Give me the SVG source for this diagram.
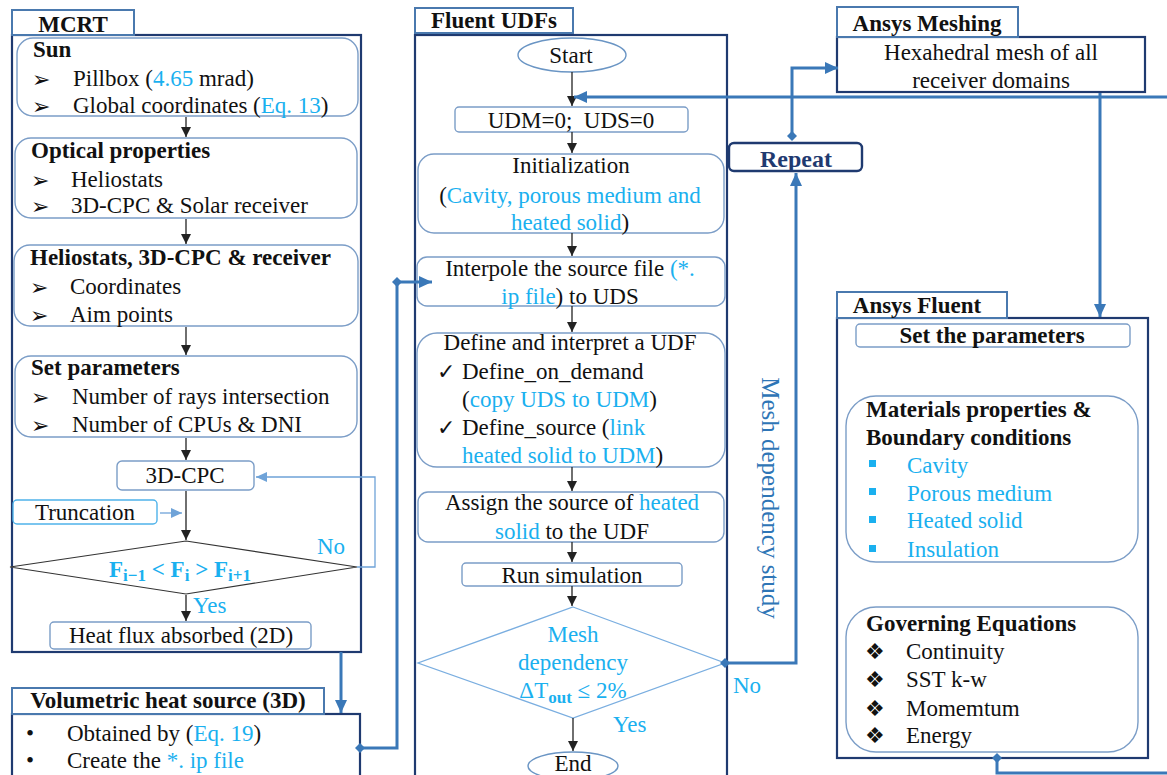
<svg xmlns="http://www.w3.org/2000/svg" width="1167" height="775" viewBox="0 0 1167 775" font-family="Liberation Serif, serif">
<defs>
<style>
text{font-family:'Liberation Serif','DejaVu Serif',serif;font-size:23px;fill:#111}
.b{font-weight:bold}
.c{text-anchor:middle}
.lb{fill:#1ab0ef}
.sym{font-family:'DejaVu Sans',sans-serif;font-size:22px}
.outer{fill:#fff;stroke:#1f3a70;stroke-width:2.2}
.tab{fill:#fff;stroke:#4a79ae;stroke-width:2}
.rb{fill:#fff;stroke:#7b9dc7;stroke-width:1.4}
.blk{fill:none;stroke:#222;stroke-width:1.3}
.thick{fill:none;stroke:#3a78b8;stroke-width:3}
.thin{fill:none;stroke:#6fa3d8;stroke-width:1.3}
</style>
<marker id="ab" markerUnits="userSpaceOnUse" markerWidth="10" markerHeight="10" refX="10" refY="5" orient="auto"><path d="M0,0 L10,5 L0,10 z" fill="#222"/></marker>
<marker id="au" markerUnits="userSpaceOnUse" markerWidth="13" markerHeight="12" refX="13" refY="6" orient="auto"><path d="M0,0 L13,6 L0,12 z" fill="#3a78b8"/></marker>
<marker id="al" markerUnits="userSpaceOnUse" markerWidth="11" markerHeight="10" refX="11" refY="5" orient="auto"><path d="M0,0 L11,5 L0,10 z" fill="#6fa3d8"/></marker>
<marker id="dm" markerUnits="userSpaceOnUse" markerWidth="10" markerHeight="10" refX="5" refY="5" orient="auto"><path d="M5,0 L10,5 L5,10 L0,5 z" fill="#3a78b8"/></marker>
</defs>
<rect width="1167" height="775" fill="#fff"/>

<!-- MCRT -->
<g id="mcrt">
<rect class="outer" x="12" y="35" width="349" height="617"/>
<rect class="tab" x="12" y="10" width="122" height="25"/>
<text class="b c" x="73" y="32">MCRT</text>
</g>
<g id="sun">
<rect class="rb" x="17" y="38" width="341" height="78" rx="16"/>
<text class="b" x="33" y="57">Sun</text>
<text class="sym" x="32" y="87">➢</text>
<text x="73" y="86">Pillbox (<tspan class="lb">4.65</tspan> mrad)</text>
<text class="sym" x="32" y="114">➢</text>
<text x="73" y="113">Global coordinates (<tspan class="lb">Eq. 13</tspan>)</text>
</g>
<g id="optical">
<rect class="rb" x="15" y="138" width="342" height="80" rx="16"/>
<text class="b" x="31" y="158">Optical properties</text>
<text class="sym" x="31" y="188">➢</text>
<text x="71" y="187">Heliostats</text>
<text class="sym" x="31" y="214">➢</text>
<text x="71" y="213">3D-CPC &amp; Solar receiver</text>
</g>
<g id="helio">
<rect class="rb" x="14" y="245" width="344" height="81" rx="16"/>
<text class="b" x="30" y="265">Heliostats, 3D-CPC &amp; receiver</text>
<text class="sym" x="30" y="295">➢</text>
<text x="70" y="294">Coordinates</text>
<text class="sym" x="30" y="323">➢</text>
<text x="70" y="322">Aim points</text>
</g>
<g id="setparams">
<rect class="rb" x="15" y="356" width="342" height="81" rx="16"/>
<text class="b" x="31" y="375">Set parameters</text>
<text class="sym" x="31" y="405">➢</text>
<text x="72" y="404">Number of rays intersection</text>
<text class="sym" x="31" y="433">➢</text>
<text x="72" y="432">Number of CPUs &amp; DNI</text>
</g>
<g id="cpc">
<rect class="rb" x="117" y="461" width="137" height="29" rx="5"/>
<text class="c" x="185" y="483">3D-CPC</text>
</g>
<g id="truncation">
<rect x="13" y="500" width="144" height="24" rx="4" fill="#fff" stroke="#4fb3ea" stroke-width="1.4"/>
<text class="c" x="85" y="520">Truncation</text>
</g>
<g id="decision1">
<path d="M186,541 L357,567 L186,594 L10,567 z" fill="#fff" stroke="#333" stroke-width="1.2"/>
<text class="b lb c" x="180" y="577" style="font-size:23px">F<tspan dy="4" style="font-size:17px">i−1</tspan><tspan dy="-4"> &lt; F</tspan><tspan dy="4" style="font-size:17px">i</tspan><tspan dy="-4"> &gt; F</tspan><tspan dy="4" style="font-size:17px">i+1</tspan></text>
</g>
<g id="heatflux">
<rect class="rb" x="50" y="622" width="261" height="27" rx="4"/>
<text class="c" x="181" y="643">Heat flux absorbed (2D)</text>
</g>
<g id="volumetric">
<rect class="outer" x="12" y="714" width="348" height="70"/>
<rect class="tab" x="12" y="688" width="312" height="26"/>
<text class="b c" x="168" y="708">Volumetric heat source (3D)</text>
<text x="26" y="741">•</text>
<text x="67" y="741">Obtained by (<tspan class="lb">Eq. 19</tspan>)</text>
<text x="26" y="768">•</text>
<text x="67" y="768">Create the <tspan class="lb">*. ip file</tspan></text>
</g>

<!-- Fluent UDFs -->
<g id="udfs">
<rect class="outer" x="415" y="35" width="312" height="750"/>
<rect class="tab" x="415" y="8" width="158" height="25"/>
<text class="b c" x="494" y="28">Fluent UDFs</text>
</g>
<g id="start">
<ellipse cx="572" cy="55" rx="54" ry="17" fill="#fff" stroke="#6a95c4" stroke-width="1.4"/>
<text class="c" x="571" y="63">Start</text>
</g>
<g id="udm">
<rect class="rb" x="455" y="107" width="233" height="25" rx="4"/>
<text class="c" x="571" y="128" xml:space="preserve">UDM=0;  UDS=0</text>
</g>
<g id="init">
<rect class="rb" x="418" y="154" width="306" height="79" rx="16"/>
<text class="c" x="571" y="173">Initialization</text>
<text class="c" x="570" y="203">(<tspan class="lb">Cavity, porous medium and</tspan></text>
<text class="c" x="570" y="230"><tspan class="lb">heated solid</tspan>)</text>
</g>
<g id="interpole">
<rect class="rb" x="417" y="257" width="308" height="49" rx="10"/>
<text class="c" x="570" y="276">Interpole the source file <tspan class="lb">(*.</tspan></text>
<text class="c" x="570" y="304"><tspan class="lb">ip file</tspan>) to UDS</text>
</g>
<g id="define">
<rect class="rb" x="417" y="333" width="308" height="134" rx="20"/>
<text class="c" x="570" y="350">Define and interpret a UDF</text>
<text class="sym" x="437" y="379">✓</text>
<text x="462" y="379">Define_on_demand</text>
<text x="462" y="407">(<tspan class="lb">copy UDS to UDM</tspan>)</text>
<text class="sym" x="437" y="435">✓</text>
<text x="462" y="435">Define_source (<tspan class="lb">link</tspan></text>
<text x="462" y="463"><tspan class="lb">heated solid to UDM</tspan>)</text>
</g>
<g id="assign">
<rect class="rb" x="418" y="492" width="306" height="50" rx="10"/>
<text class="c" x="572" y="510">Assign the source of <tspan class="lb">heated</tspan></text>
<text class="c" x="572" y="539"><tspan class="lb">solid</tspan> to the UDF</text>
</g>
<g id="run">
<rect class="rb" x="462" y="563" width="220" height="23" rx="4"/>
<text class="c" x="572" y="583">Run simulation</text>
</g>
<g id="decision2">
<path d="M573,607 L725,663 L573,718 L418,663 z" fill="#fff" stroke="#7aaee0" stroke-width="1.3"/>
<text class="c lb" x="573" y="642">Mesh</text>
<text class="c lb" x="573" y="670">dependency</text>
<text class="c lb" x="573" y="698">ΔT<tspan dy="5" class="b" style="font-size:17px">out</tspan><tspan dy="-5"> ≤ 2%</tspan></text>
</g>
<g id="end">
<ellipse cx="573" cy="766" rx="45" ry="14" fill="#fff" stroke="#6a95c4" stroke-width="1.4"/>
<text class="c" x="573" y="771">End</text>
</g>

<!-- Repeat -->
<g id="repeat">
<rect x="729" y="143" width="133" height="28" rx="5" fill="#fff" stroke="#1f3a70" stroke-width="2.4"/>
<text class="b c" x="796" y="167" style="fill:#1f3a70;font-size:24px">Repeat</text>
</g>

<!-- Ansys Meshing -->
<g id="meshing">
<rect class="outer" x="837" y="37" width="308" height="55"/>
<rect class="tab" x="837" y="7" width="181" height="30"/>
<text class="b c" x="927" y="31">Ansys Meshing</text>
<text class="c" x="991" y="60">Hexahedral mesh of all</text>
<text class="c" x="991" y="88">receiver domains</text>
</g>

<!-- Ansys Fluent -->
<g id="fluent">
<rect class="outer" x="837" y="318" width="311" height="440"/>
<rect class="tab" x="837" y="292" width="170" height="26"/>
<text class="b c" x="917" y="313">Ansys Fluent</text>
</g>
<g id="setparam2">
<rect class="rb" x="856" y="324" width="274" height="23" rx="4"/>
<text class="b c" x="992" y="343">Set the parameters</text>
</g>
<g id="materials">
<rect class="rb" x="846" y="396" width="292" height="166" rx="30"/>
<text class="b" x="866" y="417">Materials properties &amp;</text>
<text class="b" x="866" y="445">Boundary conditions</text>
<rect x="869" y="460" width="7" height="7" fill="#1ab0ef"/>
<text class="lb" x="907" y="473">Cavity</text>
<rect x="869" y="488" width="7" height="7" fill="#1ab0ef"/>
<text class="lb" x="907" y="501">Porous medium</text>
<rect x="869" y="516" width="7" height="7" fill="#1ab0ef"/>
<text class="lb" x="907" y="528">Heated solid</text>
<rect x="869" y="545" width="7" height="7" fill="#1ab0ef"/>
<text class="lb" x="907" y="557">Insulation</text>
</g>
<g id="governing">
<rect class="rb" x="846" y="607" width="292" height="145" rx="30"/>
<text class="b" x="866" y="631">Governing Equations</text>
<text class="sym" x="865" y="659">❖</text>
<text x="906" y="659">Continuity</text>
<text class="sym" x="865" y="687">❖</text>
<text x="906" y="687">SST k-w</text>
<text class="sym" x="865" y="716">❖</text>
<text x="906" y="716">Momemtum</text>
<text class="sym" x="865" y="743">❖</text>
<text x="906" y="743">Energy</text>
</g>

<text transform="translate(762,498) rotate(90)" class="c" style="fill:#2e75b6;font-size:25px">Mesh dependency study</text>

<!-- Connectors -->
<g id="connectors">
<line class="blk" x1="186" y1="117" x2="186" y2="137" marker-end="url(#ab)"/>
<line class="blk" x1="186" y1="219" x2="186" y2="244" marker-end="url(#ab)"/>
<line class="blk" x1="186" y1="327" x2="186" y2="355" marker-end="url(#ab)"/>
<line class="blk" x1="186" y1="438" x2="186" y2="460" marker-end="url(#ab)"/>
<line class="blk" x1="186" y1="491" x2="186" y2="540" marker-end="url(#ab)"/>
<line x1="160" y1="513" x2="182" y2="513" stroke="#6fa3d8" stroke-width="1.3" marker-end="url(#al)"/>
<polyline class="thin" points="357,567 375,567 375,477 256,477" marker-end="url(#al)"/>
<line class="blk" x1="186" y1="595" x2="186" y2="621" marker-end="url(#ab)"/>
<line class="thick" x1="341" y1="652" x2="341" y2="713" marker-end="url(#au)"/>
<polyline class="thick" points="360,748 397,748 397,282 432,282" marker-start="url(#dm)" marker-end="url(#au)"/>
<path d="M397,277 L402,282 L397,287 L392,282 z" fill="#3a78b8"/>

<line class="blk" x1="572" y1="72" x2="572" y2="106" marker-end="url(#ab)"/>
<line class="blk" x1="572" y1="132" x2="572" y2="153" marker-end="url(#ab)"/>
<line class="blk" x1="572" y1="233" x2="572" y2="256" marker-end="url(#ab)"/>
<line class="blk" x1="572" y1="306" x2="572" y2="332" marker-end="url(#ab)"/>
<line class="blk" x1="572" y1="467" x2="572" y2="491" marker-end="url(#ab)"/>
<line class="blk" x1="572" y1="542" x2="572" y2="562" marker-end="url(#ab)"/>
<line class="blk" x1="572" y1="586" x2="572" y2="606" marker-end="url(#ab)"/>
<line class="blk" x1="573" y1="718" x2="573" y2="751" marker-end="url(#ab)"/>

<polyline class="thick" points="725,663 796,663 796,173" marker-start="url(#dm)" marker-end="url(#au)"/>
<polyline class="thick" points="792,136 792,68 838,68" marker-start="url(#dm)" marker-end="url(#au)"/>
<line class="thick" x1="1170" y1="97" x2="574" y2="97" marker-end="url(#au)"/>
<line class="thick" x1="1100" y1="93" x2="1100" y2="317" marker-end="url(#au)"/>
<polyline class="thick" points="997,758 997,773 1170,773" marker-start="url(#dm)"/>

<text class="lb" x="317" y="554">No</text>
<text class="lb" x="193" y="613">Yes</text>
<text class="lb" x="613" y="732">Yes</text>
<text class="lb" x="733" y="693">No</text>
</g>
</svg>
